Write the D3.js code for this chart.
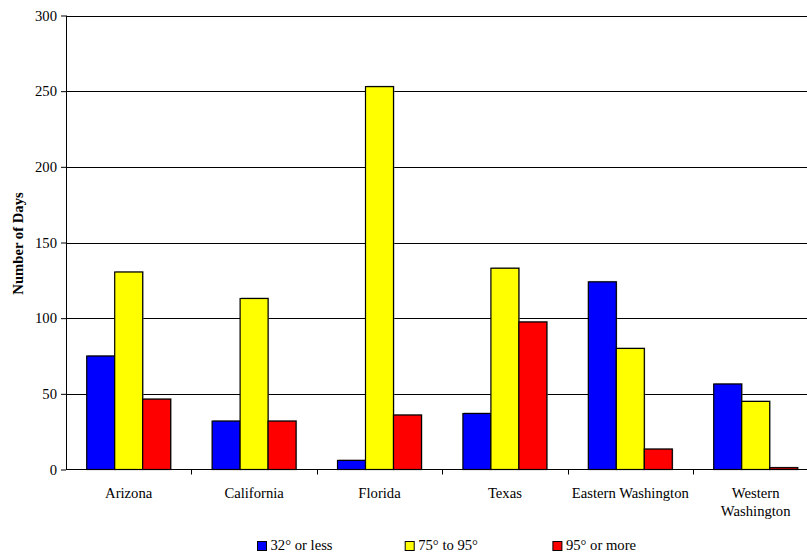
<!DOCTYPE html>
<html>
<head>
<meta charset="utf-8">
<script src="https://cdn.jsdelivr.net/npm/d3@7"></script>
<style>
  html, body { margin: 0; padding: 0; background: #fff; overflow: hidden; }
  svg { display: block; }
  svg text { font-family: "Liberation Serif", "DejaVu Serif", serif; }
</style>
</head>
<body>
<svg id="chart" width="807" height="552"></svg>
<script>
// Days per year in each temperature range, by region
const regions = ["Arizona", "California", "Florida", "Texas", "Eastern Washington", "Western Washington"];
const seriesNames = ["32° or less", "75° to 95°", "95° or more"];
const seriesColors = ["#0000ff", "#ffff00", "#ff0000"];
const coldDays = [75, 32, 6, 37, 124, 56.5];
const warmDays = [130.5, 113, 253, 133, 80, 45];
const hotDays = [46.5, 32, 36, 97.5, 13.5, 1.2];
const yTicks = [0, 50, 100, 150, 200, 250, 300];

const series = [coldDays, warmDays, hotDays];
const rows = regions.map((r, i) => ({ region: r, values: series.map(s => s[i]) }));
const FONT = "'Liberation Serif', 'DejaVu Serif', serif";
const FS = 14.67;

const svg = d3.select("#chart");
const plotLeft = 66, plotTop = 15.5, plotBottom = 469.5;
const bandW = 125.4;
const plotRight = plotLeft + bandW * regions.length;

const x = d3.scaleBand().domain(regions).range([plotLeft, plotRight]).paddingInner(0).paddingOuter(0);
const x1 = d3.scaleBand().domain(d3.range(series.length)).range([0, x.bandwidth()]).paddingInner(0).paddingOuter(0.74);
const y = d3.scaleLinear().domain([0, 300]).range([plotBottom, plotTop]);

// Horizontal gridlines
svg.append("g")
  .selectAll("line")
  .data(yTicks.slice(1))
  .join("line")
  .attr("x1", plotLeft).attr("x2", plotRight)
  .attr("y1", d => Math.round(y(d)) + 0.5).attr("y2", d => Math.round(y(d)) + 0.5)
  .attr("stroke", "#000").attr("stroke-width", 1);

// Bars with a faint drop shadow
const groups = svg.append("g").selectAll("g")
  .data(rows).join("g")
  .attr("transform", d => `translate(${x(d.region)},0)`);

groups.selectAll("rect.shadow")
  .data(d => d.values.map((v, k) => ({ v, k })))
  .join("rect")
  .attr("class", "shadow")
  .attr("x", d => x1(d.k) + 1)
  .attr("y", d => y(d.v) - 1)
  .attr("width", x1.bandwidth())
  .attr("height", d => plotBottom - y(d.v) + 1)
  .attr("fill", "#9a9a9a").attr("opacity", 0.6);

groups.selectAll("rect.bar")
  .data(d => d.values.map((v, k) => ({ v, k })))
  .join("rect")
  .attr("class", "bar")
  .attr("x", d => x1(d.k))
  .attr("y", d => y(d.v))
  .attr("width", x1.bandwidth())
  .attr("height", d => plotBottom - y(d.v))
  .attr("fill", d => seriesColors[d.k])
  .attr("stroke", "#000").attr("stroke-width", 1.2);

// Y axis
const yAxis = d3.axisLeft(y).tickValues(yTicks).tickSize(5).tickPadding(4);
const gy = svg.append("g").attr("transform", `translate(${plotLeft},0)`).call(yAxis)
  .attr("font-family", FONT).attr("font-size", FS);
gy.select(".domain").attr("stroke", "#000").attr("d", `M0.5,${plotTop}V${plotBottom}`);
gy.selectAll(".tick line").attr("stroke", "#000");
gy.selectAll(".tick text").attr("fill", "#000");

// X axis
const gx = svg.append("g").attr("transform", `translate(0,${plotBottom})`);
gx.append("line").attr("x1", plotLeft).attr("x2", plotRight).attr("y1", 0).attr("y2", 0).attr("stroke", "#000");
gx.selectAll("line.tk")
  .data(regions.slice(1))
  .join("line")
  .attr("class", "tk")
  .attr("x1", d => Math.round(x(d)) + 0.5).attr("x2", d => Math.round(x(d)) + 0.5)
  .attr("y1", 0).attr("y2", 5)
  .attr("stroke", "#000");

const labelLines = {
  "Western Washington": ["Western", "Washington"]
};
gx.selectAll("text.cat")
  .data(regions)
  .join("text")
  .attr("class", "cat")
  .attr("x", d => x(d) + x.bandwidth() / 2)
  .attr("y", 28)
  .attr("text-anchor", "middle")
  .attr("font-family", FONT)
  .attr("font-size", FS)
  .attr("fill", "#000")
  .each(function (d) {
    const lines = labelLines[d] || [d];
    d3.select(this).selectAll("tspan")
      .data(lines).join("tspan")
      .attr("x", x(d) + x.bandwidth() / 2)
      .attr("dy", (l, i) => i === 0 ? 0 : 18)
      .text(l => l);
  });

// Y axis title
svg.append("text")
  .attr("transform", `translate(23,${(plotTop + plotBottom) / 2 + 1}) rotate(-90)`)
  .attr("text-anchor", "middle")
  .attr("font-family", FONT)
  .attr("font-size", FS)
  .attr("font-weight", "bold")
  .attr("fill", "#000")
  .text("Number of Days");

// Legend
const legend = svg.append("g").selectAll("g")
  .data(seriesNames).join("g")
  .attr("transform", (d, i) => `translate(${257.5 + i * 147.7},541.5)`);
legend.append("rect")
  .attr("width", 9).attr("height", 9)
  .attr("fill", (d, i) => seriesColors[i])
  .attr("stroke", "#000").attr("stroke-width", 1);
legend.append("text")
  .attr("x", 13).attr("y", 8.7)
  .attr("font-family", FONT)
  .attr("font-size", FS)
  .attr("fill", "#000")
  .text(d => d);
</script>
</body>
</html>
